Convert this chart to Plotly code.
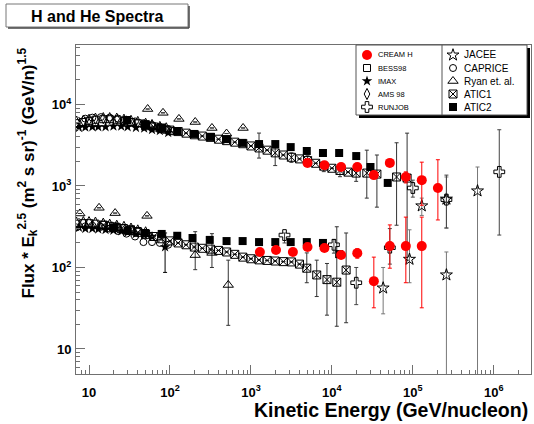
import plotly.graph_objects as go

# ---------------- data (E in GeV/nucleon, flux*E^2.5) ----------------
# each experiment: proton points first, then helium points
cream_E = [5000, 8100, 13000, 20600, 33000, 52000, 82000, 129000, 204000,
           1290, 2040, 3300, 5000, 8100, 13000, 20600, 33000, 52000, 82000, 129000]
cream_F = [1920, 1800, 1710, 1710, 1360, 1920, 1290, 1180, 945,
           155, 164, 155, 178, 173, 142, 150, 68, 183, 183, 183]
cream_up = [60, 60, 70, 80, 90, 150, 200, 780, 1155,
            6, 7, 8, 10, 12, 12, 20, 66, 150, 232, 232]
cream_dn = [60, 60, 70, 80, 90, 150, 200, 600, 562,
            6, 7, 8, 10, 12, 12, 20, 36, 85, 118, 151]

bess_E = [7, 8.5, 10, 12, 15, 18, 22, 27, 33, 40, 50, 60, 75, 90, 110,
          7, 8.5, 10, 12, 15, 18, 22, 27, 33, 40, 50]
bess_F = [5900, 6100, 6300, 6500, 6600, 6600, 6500, 6300, 6100, 5900, 5600, 5400, 5100, 4900, 4700,
          345, 350, 350, 345, 335, 325, 315, 305, 295, 280, 265]

imax_E = [7.5, 9, 11, 13, 16, 20, 25, 30, 38, 48, 60, 75, 95,
          7.5, 9, 11, 13, 16, 20, 25, 30, 38, 48, 60, 87]
imax_F = [5200, 5250, 5300, 5300, 5300, 5400, 5400, 5300, 5200, 5100, 4900, 4750, 4500,
          310, 300, 300, 295, 290, 285, 280, 270, 260, 250, 240, 178]
imax_up = [0, 0, 0, 0, 0, 0, 0, 0, 0, 0, 0, 0, 0,
           0, 0, 0, 0, 0, 0, 0, 0, 0, 0, 0, 87]
imax_dn = [0, 0, 0, 0, 0, 0, 0, 0, 0, 0, 0, 0, 0,
           0, 0, 0, 0, 0, 0, 0, 0, 0, 0, 0, 91]

ams_E = [7, 8.5, 10, 12, 15, 18, 22, 27, 33, 40, 50, 60, 75, 90,
         7, 8.5, 10, 12, 15, 18, 22, 27, 33, 40, 50]
ams_F = [6100, 6300, 6500, 6700, 6800, 6800, 6700, 6500, 6300, 6100, 5800, 5600, 5300, 5100,
         355, 360, 360, 355, 345, 335, 325, 315, 300, 285, 270]

runjob_E = [100000, 260000, 1170000, 2600, 10600, 20000, 52000]
runjob_F = [945, 680, 1490, 250, 190, 65, 175]
runjob_up = [235, 680, 3410, 15, 30, 35, 125]
runjob_dn = [215, 375, 1240, 50, 40, 30, 65]

jacee_E = [129000, 260000, 630000, 43000, 91000, 260000]
jacee_F = [570, 690, 870, 56, 126, 81]
jacee_up = [140, 600, 840, 44, 164, 74]
jacee_dn = [135, 385, 869.5, 29, 61, 80.5]

caprice_E = [7, 9, 11, 14, 18, 23, 29, 37, 47, 60, 75, 95,
             7, 9, 11, 14, 18, 23, 29, 37, 47, 60, 75, 95]
caprice_F = [6400, 6700, 6900, 7000, 6900, 6700, 6500, 6200, 5900, 5600, 5300, 5000,
             310, 320, 325, 315, 300, 280, 260, 240, 205, 205, 200, 190]

ryan_E = [53, 82, 129, 205, 330, 500, 800, 7.7, 13.3, 21, 52, 205, 330, 525]
ryan_F = [8800, 7900, 6650, 6100, 5150, 4400, 5150, 460, 540, 465, 430, 142, 151, 61]
ryan_up = [0, 0, 0, 0, 0, 0, 0, 0, 0, 0, 0, 133, 109, 62]
ryan_dn = [0, 0, 0, 0, 0, 0, 0, 0, 0, 0, 0, 48, 51, 41.5]

atic1_E = [50, 63, 79, 100, 126, 158, 200, 251, 316, 398, 501, 631, 794, 1000, 1259, 1585,
           1995, 2512, 3162, 3981, 5012, 6310, 7943, 10000, 12589, 15849, 19953, 27000, 36000, 63000, 85000,
           15, 20, 25, 32, 40, 50, 63, 79, 100, 126, 158, 200, 251, 316, 398, 501, 631, 794, 1000, 1259,
           1585, 1995, 2512, 3162, 3981, 4900, 6500, 8700, 11500, 15000]
atic1_F = [5500, 5300, 5100, 4850, 4650, 4450, 4250, 4100, 3950, 3750, 3600, 3450, 3300, 3100, 2930, 2750,
           2550, 2400, 2250, 2150, 2050, 1900, 1750, 1650, 1550, 1480, 1440, 1440, 1400, 1290, 1250,
           330, 315, 300, 285, 270, 255, 240, 225, 212, 200, 190, 178, 172, 168, 162, 155, 145, 134, 128, 124,
           122, 120, 118, 117, 110, 98, 81, 71, 66, 93]
atic1_up = [0, 0, 0, 0, 0, 0, 0, 0, 0, 0, 0, 0, 0, 0, 1530, 0,
            940, 0, 300, 0, 300, 0, 250, 0, 250, 0, 300, 1310, 1000, 2100, 3200,
            0, 0, 0, 0, 0, 0, 0, 0, 0, 0, 0, 0, 0, 0, 0, 0, 0, 0, 0, 0,
            0, 0, 0, 0, 0, 53, 42, 41, 250, 172]
atic1_dn = [0, 0, 0, 0, 0, 0, 0, 0, 0, 0, 0, 0, 0, 0, 730, 0,
            770, 0, 300, 0, 300, 0, 250, 0, 250, 0, 300, 730, 850, 960, 1127,
            0, 0, 0, 0, 0, 0, 0, 0, 0, 0, 0, 0, 0, 0, 0, 0, 0, 0, 0, 0,
            0, 0, 0, 0, 0, 33, 37, 45, 47, 72]

atic2_E = [29.5, 50, 80, 123, 198, 321, 500, 790, 1260, 2000, 3100, 4900, 7760, 12300, 20000, 30000, 49000,
           20, 30, 49, 79, 123, 190, 310, 500, 790, 1260, 2000, 3100, 4900, 7760, 12300]
atic2_F = [6450, 5750, 5200, 4730, 4350, 4000, 3760, 3380, 3270, 3270, 3000, 2690, 2540, 2540, 2330, 1710, 1090,
           305, 283, 265, 258, 245, 230, 218, 211, 211, 205, 205, 205, 205, 200, 146]

legend_left = ["CREAM H", "BESS98", "IMAX", "AMS 98", "RUNJOB"]
legend_right = ["JACEE", "CAPRICE", "Ryan et. al.", "ATIC1", "ATIC2"]

x_tick_vals = [10, 100, 1000, 10000, 100000, 1000000]
x_tick_text = ["10", "10<sup>2</sup>", "10<sup>3</sup>", "10<sup>4</sup>", "10<sup>5</sup>", "10<sup>6</sup>"]
y_tick_vals = [10, 100, 1000, 10000]
y_tick_text = ["10", "10<sup>2</sup>", "10<sup>3</sup>", "10<sup>4</sup>"]

# ---------------- geometry ----------------
W, H = 534, 424
L, R, T, B = 76, 3, 45, 50
PW = W - L - R
PH = H - T - B


def px_x(x):
    return (x - L) / PW


def px_y(y):
    return (H - B - y) / PH


FONT = "Liberation Sans, Arial, Helvetica, sans-serif"
AX = "#707070"

styles = {
    "CREAM H": dict(symbol="circle", size=10, color="#ff0000", line=dict(width=0)),
    "BESS98": dict(symbol="square-open", size=7, color="black", line=dict(width=1)),
    "IMAX": dict(symbol="star", size=8, color="black", line=dict(width=0)),
    "AMS 98": dict(symbol="diamond-tall-open", size=8, color="black", line=dict(width=1)),
    "RUNJOB": dict(symbol="cross-open", size=9, color="black", line=dict(width=1)),
    "JACEE": dict(symbol="star-open", size=9, color="black", line=dict(width=1)),
    "CAPRICE": dict(symbol="circle-open", size=7, color="black", line=dict(width=1)),
    "Ryan et. al.": dict(symbol="triangle-up-open", size=9, color="black", line=dict(width=1)),
    "ATIC1": dict(symbol="square-x-open", size=8, color="black", line=dict(width=1)),
    "ATIC2": dict(symbol="square", size=8, color="black", line=dict(width=0)),
}

series = [
    ("BESS98", bess_E, bess_F, None, None, "black"),
    ("AMS 98", ams_E, ams_F, None, None, "black"),
    ("CAPRICE", caprice_E, caprice_F, None, None, "black"),
    ("IMAX", imax_E, imax_F, imax_up, imax_dn, "black"),
    ("Ryan et. al.", ryan_E, ryan_F, ryan_up, ryan_dn, "#333"),
    ("ATIC1", atic1_E, atic1_F, atic1_up, atic1_dn, "#333"),
    ("ATIC2", atic2_E, atic2_F, None, None, "black"),
    ("JACEE", jacee_E, jacee_F, jacee_up, jacee_dn, "#777"),
    ("RUNJOB", runjob_E, runjob_F, runjob_up, runjob_dn, "#444"),
    ("CREAM H", cream_E, cream_F, cream_up, cream_dn, "#ff0000"),
]

fig = go.Figure()
for name, xs, ys, up, dn, ecol in series:
    kw = {}
    if up is not None:
        kw["error_y"] = dict(type="data", symmetric=False, array=up, arrayminus=dn,
                             color=ecol, thickness=1, width=2)
    fig.add_trace(go.Scatter(x=xs, y=ys, mode="markers", name=name, marker=styles[name],
                             showlegend=False, hoverinfo="skip", **kw))

# ---------------- hand-built two-column legend ----------------
row_y = [55, 68, 81, 94, 107]
annotations = []
for col, names, mx, tx, fs in [(0, legend_left, 367, 376, 7.5), (1, legend_right, 453, 462, 10)]:
    for i, nm in enumerate(names):
        st = dict(styles[nm])
        fig.add_trace(go.Scatter(x=[px_x(mx)], y=[px_y(row_y[i])], mode="markers", marker=st,
                                 xaxis="x2", yaxis="y2", showlegend=False, hoverinfo="skip"))
        annotations.append(dict(x=px_x(tx), y=px_y(row_y[i]), xref="paper", yref="paper",
                                text=nm, showarrow=False, xanchor="left", yanchor="middle",
                                font=dict(family=FONT, size=fs, color="black")))

shapes = [
    # legend shadow
    dict(type="rect", xref="paper", yref="paper", x0=px_x(527), x1=px_x(530), y0=px_y(118), y1=px_y(48),
         fillcolor="black", line=dict(width=0), layer="above"),
    dict(type="rect", xref="paper", yref="paper", x0=px_x(359), x1=px_x(530), y0=px_y(118), y1=px_y(115),
         fillcolor="black", line=dict(width=0), layer="above"),
    # legend frame + divider
    dict(type="rect", xref="paper", yref="paper", x0=px_x(356), x1=px_x(527), y0=px_y(115), y1=px_y(45),
         line=dict(color="#555", width=1), layer="above"),
    dict(type="line", xref="paper", yref="paper", x0=px_x(442), x1=px_x(442), y0=px_y(115), y1=px_y(45),
         line=dict(color="#555", width=1), layer="above"),
    # title box + shadow
    dict(type="rect", xref="paper", yref="paper", x0=px_x(6), x1=px_x(188), y0=px_y(27), y1=px_y(4),
         line=dict(color="#777", width=1), layer="above"),
    dict(type="line", xref="paper", yref="paper", x0=px_x(189), x1=px_x(189), y0=px_y(28), y1=px_y(6),
         line=dict(color="#444", width=1.5), layer="above"),
    dict(type="line", xref="paper", yref="paper", x0=px_x(8), x1=px_x(189), y0=px_y(28), y1=px_y(28),
         line=dict(color="#444", width=1.5), layer="above"),
]

annotations += [
    dict(x=px_x(97), y=px_y(16), xref="paper", yref="paper", text="H and He Spectra", showarrow=False,
         xanchor="center", yanchor="middle", font=dict(family=FONT, size=16, color="black", weight="bold")),
    dict(x=px_x(530), y=px_y(410), xref="paper", yref="paper", text="Kinetic Energy (GeV/nucleon)",
         showarrow=False, xanchor="right", yanchor="middle",
         font=dict(family=FONT, size=19.5, color="black", weight="bold")),
    dict(x=px_x(28), y=px_y(46), xref="paper", yref="paper",
         text="Flux * E<sub>k</sub><sup>2.5</sup> (m<sup>2</sup> s sr)<sup>-1</sup> (GeV/n)<sup>1.5</sup>",
         showarrow=False, textangle=-90, xanchor="center", yanchor="top",
         font=dict(family=FONT, size=17, color="black", weight="bold")),
]

axis_common = dict(type="log", showgrid=False, zeroline=False, showline=True, mirror=True,
                   linecolor=AX, linewidth=1, ticks="inside", ticklen=9, tickcolor=AX,
                   tickfont=dict(family=FONT, size=13, color="black", weight="bold"),
                   minor=dict(ticks="inside", ticklen=4, tickcolor=AX, dtick="D1", showgrid=False))

fig.update_layout(
    width=W, height=H, margin=dict(l=L, r=R, t=T, b=B, autoexpand=False),
    paper_bgcolor="white", plot_bgcolor="white", showlegend=False,
    xaxis=dict(range=[0.839, 6.46], tickmode="array", tickvals=x_tick_vals, ticktext=x_tick_text,
               ticklabelstandoff=6, **axis_common),
    yaxis=dict(range=[0.693, 4.73], tickmode="array", tickvals=y_tick_vals, ticktext=y_tick_text,
               ticklabelstandoff=1, **axis_common),
    xaxis2=dict(overlaying="x", anchor="y2", range=[0, 1], visible=False, fixedrange=True),
    yaxis2=dict(overlaying="y", anchor="x2", range=[0, 1], visible=False, fixedrange=True),
    shapes=shapes, annotations=annotations,
)

# remove the browser's default 8px page margin so the figure sits at the window origin
fig.write_html("out.html", config={"displayModeBar": False},
               post_script="document.body.style.margin='0';")
